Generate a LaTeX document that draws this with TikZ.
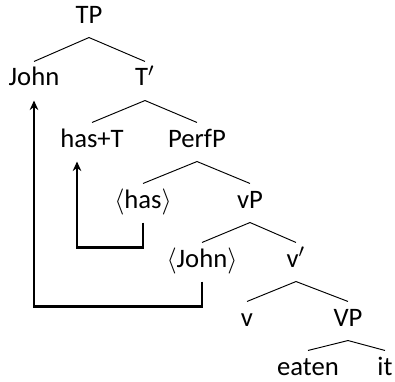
\documentclass[tikz,border=0pt]{standalone}
\usepackage{fontspec}
\setmainfont{Carlito}
\usetikzlibrary{arrows.meta}
\begin{document}
\begin{tikzpicture}[x=0.42pt,y=-0.42pt,
  thin,tree node/.style={anchor=base,inner sep=0pt,font=\fontsize{11.2pt}{13pt}\selectfont,
    text height=10.1pt,text depth=5.9pt},
  leaf node/.style={tree node,text depth=0pt},
  move/.style={line width=0.9pt,-{Stealth[length=4pt,width=3.6pt]}}]
  \useasboundingbox (0,0) rectangle (395,382);

  \node[tree node] (TP) at (89,23) {TP};
  \node[tree node] (John) at (34,86) {John};
  \node[tree node] (Tbar) at (145,86) {T$'$};
  \node[tree node] (hasT) at (92,147) {has+T};
  \node[tree node] (PerfP) at (197,147) {PerfP};
  \node[tree node] (has) at (143,208) {$\langle$has$\rangle$};
  \node[tree node] (vP) at (250,208) {vP};
  \node[tree node] (JohnT) at (202,267) {$\langle$John$\rangle$};
  \node[tree node] (vbar) at (296,267) {v$'$};
  \node[tree node] (v) at (247,326) {v};
  \node[tree node] (VP) at (348,326) {VP};
  \node[leaf node] (eaten) at (308,375) {eaten};
  \node[leaf node] (it) at (385,375) {it};

  \path
    (TP.south) edge (John.north)
    (TP.south) edge (Tbar.north)
    (Tbar.south) edge (hasT.north)
    (Tbar.south) edge (PerfP.north)
    (PerfP.south) edge (has.north)
    (PerfP.south) edge (vP.north)
    (vP.south) edge (JohnT.north)
    (vP.south) edge (vbar.north)
    (vbar.south) edge (v.north)
    (vbar.south) edge (VP.north)
    (VP.south) edge (eaten.north)
    (VP.south) edge (it.north);

  \draw[move] (has.south) -- ++(0,25) -| ([xshift=-6.3pt]hasT.south);
  \draw[move] (JohnT.south) -- ++(0,25) -| (John.south);
\end{tikzpicture}
\end{document}
